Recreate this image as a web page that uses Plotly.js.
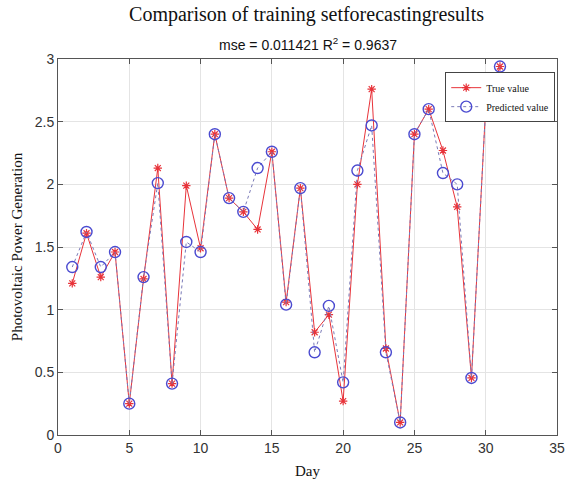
<!DOCTYPE html>
<html>
<head>
<meta charset="utf-8">
<script src="https://cdn.plot.ly/plotly-3.0.1.min.js"></script>
<style>html,body{margin:0;padding:0;background:#fff;}#chart{width:573px;height:483px;}</style>
</head>
<body>
<div id="chart"></div>
<script>
const days = [1,2,3,4,5,6,7,8,9,10,11,12,13,14,15,16,17,18,19,20,21,22,23,24,25,26,27,28,29,30,31];
const trueValues = [1.21,1.61,1.26,1.46,0.25,1.245,2.13,0.41,1.99,1.49,2.40,1.89,1.78,1.64,2.26,1.06,1.97,0.82,0.96,0.27,2.00,2.76,0.69,0.10,2.40,2.60,2.27,1.82,0.455,2.62,2.94];
const predictedValues = [1.34,1.62,1.34,1.46,0.25,1.26,2.01,0.41,1.54,1.46,2.40,1.89,1.78,2.13,2.26,1.04,1.97,0.66,1.03,0.42,2.11,2.47,0.66,0.10,2.40,2.60,2.09,2.00,0.455,2.62,2.94];
const xTicks = [0,5,10,15,20,25,30,35];
const yTicks = [0,0.5,1,1.5,2,2.5,3];
const yTickText = ['0','0.5','1','1.5','2','2.5','3'];

const traces = [
  {
    x: days, y: trueValues, type: 'scatter', mode: 'lines+markers', name: 'True value',
    line: {color: '#e8333a', width: 1},
    marker: {symbol: 'asterisk-open', size: 7, color: '#e8333a', line: {color: '#e8333a', width: 1.2}}
  },
  {
    x: days, y: predictedValues, type: 'scatter', mode: 'lines+markers', name: 'Predicted value',
    line: {color: '#7a7ab8', width: 1, dash: 'dot'},
    marker: {symbol: 'circle-open', size: 11, color: '#4a4ad0', line: {color: '#4a4ad0', width: 1.4}}
  }
];

const axisCommon = {
  showline: true, mirror: 'ticks', linecolor: '#555', linewidth: 1,
  ticks: 'inside', ticklen: 5, tickcolor: '#555',
  showgrid: true, gridcolor: '#e4e4e4', gridwidth: 1,
  zeroline: false,
  tickfont: {family: 'Liberation Sans, Arial, sans-serif', size: 14, color: '#333'}
};

const layout = {
  width: 573, height: 483,
  margin: {l: 58, r: 16, t: 59, b: 48},
  paper_bgcolor: '#fff', plot_bgcolor: '#fff',
  showlegend: true,
  legend: {
    x: 0.776, y: 0.965, xanchor: 'left', yanchor: 'top',
    bgcolor: 'rgba(255,255,255,1)', bordercolor: '#444', borderwidth: 1,
    font: {family: 'Liberation Serif, Times New Roman, serif', size: 10, color: '#111'},
    itemwidth: 30, tracegroupgap: 0
  },
  title: {
    text: 'Comparison of training setforecastingresults',
    font: {family: 'Liberation Serif, Times New Roman, serif', size: 20, color: '#111'},
    x: 0.535, xanchor: 'center', xref: 'container',
    y: 0.985, yanchor: 'top', yref: 'container'
  },
  annotations: [{
    text: 'mse = 0.011421 R<sup>2</sup> = 0.9637',
    xref: 'paper', yref: 'paper', x: 0.5, y: 1.0, xanchor: 'center', yanchor: 'bottom',
    yshift: 4, showarrow: false,
    font: {family: 'Liberation Sans, Arial, sans-serif', size: 14, color: '#111'}
  }],
  xaxis: Object.assign({}, axisCommon, {
    range: [0, 35], tickvals: xTicks, ticktext: xTicks.map(String),
    title: {text: 'Day', font: {family: 'Liberation Serif, Times New Roman, serif', size: 15, color: '#111'}, standoff: 10}
  }),
  yaxis: Object.assign({}, axisCommon, {
    range: [0, 3], tickvals: yTicks, ticktext: yTickText,
    title: {text: 'Photovoltaic Power Generation', font: {family: 'Liberation Serif, Times New Roman, serif', size: 15, color: '#111'}, standoff: 8}
  })
};

Plotly.newPlot('chart', traces, layout, {displayModeBar: false, staticPlot: true});
</script>
</body>
</html>
